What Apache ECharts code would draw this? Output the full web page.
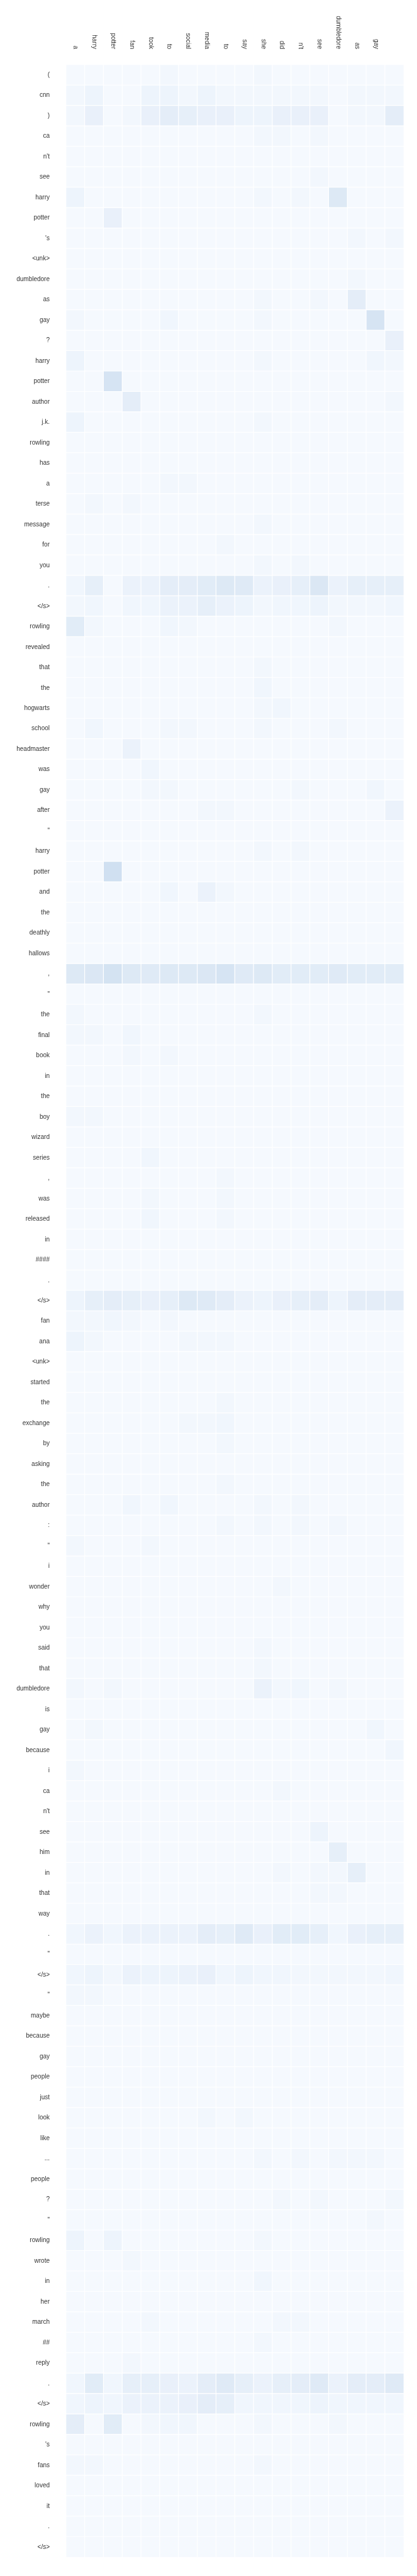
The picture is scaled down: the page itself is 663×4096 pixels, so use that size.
<!DOCTYPE html>
<html><head><meta charset="utf-8">
<script src="https://cdn.jsdelivr.net/npm/echarts@6/dist/echarts.min.js"></script>
<style>html,body{margin:0;padding:0;background:#fff}#c{width:663px;height:4096px}</style>
</head><body><div id="c"></div>
<script>
const xTokens = ['a','harry','potter','fan','took','to','social','media','to','say','she','did',"n't",'see','dumbledore','as','gay',''];
const yTokens = ['(','cnn',')','ca',"n't",'see','harry','potter',"'s",'<unk>','dumbledore','as','gay','?','harry','potter','author','j.k.','rowling','has','a','terse','message','for','you','.','</s>','rowling','revealed','that','the','hogwarts','school','headmaster','was','gay','after','"','harry','potter','and','the','deathly','hallows',',','"','the','final','book','in','the','boy','wizard','series',',','was','released','in','####','.','</s>','fan','ana','<unk>','started','the','exchange','by','asking','the','author',':','"','i','wonder','why','you','said','that','dumbledore','is','gay','because','i','ca',"n't",'see','him','in','that','way','.','"','</s>','"','maybe','because','gay','people','just','look','like','...','people','?','"','rowling','wrote','in','her','march','##','reply','.','</s>','rowling',"'s",'fans','loved','it','.','</s>'];
// attention weights, in percent (rows = yTokens, columns = xTokens)
const weights = [
[1,1,1,1,1,2,1,1,1,1,2,1,1,1,1,1,1,1],
[2,4,1,1,4,4,2,4,2,2,2,2,2,2,1,2,2,2],
[2,6,1,2,6,8,7,6,6,4,4,6,6,6,1,2,2,8],
[1,1,1,1,1,1,1,1,1,1,2,2,1,2,1,1,1,1],
[1,1,1,1,1,1,1,1,1,1,1,1,1,1,1,1,1,1],
[1,1,1,1,1,1,1,1,1,1,1,1,1,2,1,1,1,1],
[4,1,1,1,1,1,1,1,1,1,2,1,2,1,11,1,1,1],
[1,1,6,1,1,1,1,1,1,1,1,1,1,1,1,1,1,1],
[1,1,1,1,1,1,1,1,1,1,1,1,1,1,1,2,1,2],
[1,1,1,1,1,1,1,1,1,1,1,1,1,1,1,1,1,1],
[1,1,1,1,1,1,1,1,1,1,1,1,1,1,1,2,1,1],
[1,1,1,1,1,1,1,1,1,1,2,1,1,2,1,8,1,1],
[2,1,1,1,1,3,1,1,1,1,2,1,1,1,1,1,14,1],
[1,1,1,1,1,1,1,1,1,1,1,1,1,1,1,1,1,6],
[4,1,1,1,1,1,1,1,1,1,2,1,1,1,1,1,3,2],
[1,1,14,1,1,1,1,1,1,1,1,1,1,1,1,1,1,1],
[1,1,1,8,1,1,1,1,1,1,1,1,1,1,1,1,1,2],
[4,1,1,1,1,1,1,1,1,1,2,1,1,1,1,1,1,1],
[1,1,1,1,1,1,1,1,1,1,1,1,1,1,1,1,1,1],
[1,1,1,1,1,1,1,1,1,1,1,1,1,1,1,1,1,1],
[1,1,1,1,1,2,2,1,1,1,1,1,1,1,1,1,1,1],
[1,2,1,2,1,1,1,1,1,1,1,1,1,1,1,1,1,1],
[1,1,1,1,1,1,1,1,1,1,2,1,1,1,1,1,1,1],
[1,1,1,1,1,1,1,1,2,1,1,1,1,1,1,1,1,1],
[1,1,1,1,1,1,1,1,1,1,2,1,2,1,1,1,1,1],
[3,7,1,5,5,8,8,9,11,10,5,6,7,12,5,7,7,7],
[2,3,1,3,3,5,5,7,5,4,2,3,3,4,2,2,2,3],
[9,2,1,1,1,3,2,1,1,1,1,1,1,1,2,1,1,1],
[1,1,1,1,1,1,1,1,1,1,1,1,1,1,1,1,1,1],
[1,1,1,1,1,1,1,1,1,1,2,1,1,1,1,1,1,1],
[1,1,1,1,1,1,1,1,1,1,3,1,1,1,1,1,1,1],
[1,1,1,1,1,1,1,1,1,1,2,3,1,1,1,1,1,1],
[1,3,1,1,1,2,2,1,1,1,2,1,1,1,2,1,1,1],
[1,1,1,5,1,1,1,1,1,1,1,1,1,1,1,1,1,1],
[1,1,1,1,3,1,1,1,1,1,1,1,1,1,1,1,1,1],
[1,1,1,1,2,2,1,1,1,1,1,1,2,1,1,1,3,1],
[1,1,1,1,1,1,1,2,2,1,1,1,1,1,1,1,1,5],
[1,1,1,1,1,1,1,1,1,1,1,1,1,1,1,1,1,1],
[1,1,1,1,1,1,1,1,1,1,2,1,2,1,1,1,1,1],
[1,1,17,1,1,1,1,1,1,1,1,1,1,1,1,1,1,1],
[1,1,1,1,1,3,1,5,2,1,1,1,1,1,1,1,1,1],
[1,1,1,1,1,1,1,1,1,1,1,1,1,1,1,1,1,1],
[1,1,1,1,1,1,1,1,1,1,1,1,1,1,1,1,1,1],
[1,1,1,1,1,1,1,1,1,1,1,1,1,1,1,1,1,1],
[11,12,15,11,10,11,11,12,14,10,11,9,9,9,10,9,9,9],
[1,1,1,1,1,1,1,1,1,1,1,1,1,1,1,1,1,1],
[2,1,1,1,1,1,1,1,1,1,2,1,1,1,1,1,1,1],
[2,2,1,3,1,1,1,1,1,1,1,1,1,1,1,1,1,1],
[1,1,1,2,1,2,1,1,1,1,1,1,1,1,1,1,1,1],
[1,1,1,1,1,1,1,1,1,1,1,1,1,1,1,1,1,1],
[1,1,1,1,1,1,1,1,1,1,1,1,1,1,1,1,1,1],
[2,2,1,1,1,1,1,1,1,1,1,1,1,1,1,1,1,1],
[1,1,1,1,1,1,1,1,1,1,1,1,1,1,1,1,1,1],
[1,1,1,1,3,1,1,1,1,1,1,1,1,1,1,1,1,1],
[1,1,1,1,1,1,1,1,2,1,1,1,1,1,1,1,1,1],
[1,1,1,1,2,1,1,1,2,1,1,1,1,1,1,1,1,1],
[1,1,1,1,3,1,1,1,2,1,1,1,1,1,1,1,1,1],
[1,1,1,1,1,1,1,1,1,1,1,1,1,1,1,1,1,1],
[1,1,1,1,1,1,1,1,1,1,1,1,1,1,1,1,1,1],
[1,1,1,1,1,1,1,1,1,1,1,1,1,1,1,1,1,1],
[4,7,8,7,6,7,11,10,8,5,4,6,7,8,4,8,8,8],
[2,2,3,2,1,2,1,1,1,1,1,1,1,1,1,1,1,1],
[4,2,1,1,1,1,2,2,2,1,1,1,1,1,1,1,1,1],
[1,1,1,1,1,1,1,1,1,1,1,1,1,1,1,1,1,1],
[1,1,1,1,1,1,1,1,1,1,1,1,1,1,1,1,1,1],
[1,1,1,1,1,1,1,1,2,1,1,1,1,1,1,1,1,1],
[1,1,1,1,1,1,2,2,3,1,1,1,1,1,1,1,1,1],
[1,1,1,1,1,1,1,1,2,1,1,1,1,1,1,1,1,1],
[1,1,1,1,1,1,1,1,1,1,1,1,1,1,1,1,1,1],
[1,1,1,1,1,1,1,1,2,1,1,1,1,1,1,1,1,1],
[1,1,1,3,1,3,1,1,1,1,2,1,2,1,1,1,1,1],
[1,1,1,1,1,1,1,1,2,1,2,1,2,1,2,1,1,1],
[2,1,1,1,2,1,1,1,1,1,1,1,1,1,1,1,1,1],
[1,1,1,1,1,1,1,1,1,1,1,1,1,1,1,1,1,1],
[1,1,1,1,1,1,1,1,1,1,1,2,1,1,1,1,1,1],
[1,1,1,1,1,1,1,1,1,1,1,1,1,1,1,1,1,1],
[1,1,1,1,1,1,1,1,1,1,1,1,1,1,1,1,1,1],
[1,1,1,1,1,1,1,1,1,1,2,1,1,1,1,1,1,1],
[1,1,1,1,1,1,1,1,1,1,2,1,1,1,1,1,1,1],
[2,1,2,1,1,1,1,1,1,1,5,2,3,1,2,1,1,1],
[1,1,1,1,1,1,1,1,1,1,1,1,1,1,1,1,1,1],
[1,2,1,1,1,1,1,1,1,1,1,1,1,1,1,1,3,1],
[1,1,1,1,1,1,1,1,1,1,1,1,1,1,1,1,1,3],
[2,1,1,1,1,1,1,1,1,1,1,1,1,1,1,1,1,1],
[1,1,1,1,1,1,1,1,1,1,1,2,1,1,1,1,1,1],
[1,1,1,1,1,1,1,1,1,1,1,1,1,1,1,1,1,1],
[1,1,1,1,1,1,1,1,1,1,1,1,1,4,1,1,1,1],
[1,1,1,1,1,1,1,1,1,1,1,1,1,1,7,1,1,1],
[1,1,1,1,1,1,1,1,1,1,1,2,1,2,2,7,1,1],
[1,1,1,1,1,1,1,1,1,1,1,1,1,2,2,1,1,1],
[1,1,1,1,1,1,1,1,1,1,1,1,1,1,1,1,1,1],
[3,5,3,5,5,5,5,8,7,10,6,9,9,7,3,6,7,7],
[1,1,1,1,1,1,1,1,1,1,1,1,1,1,1,1,1,1],
[3,4,2,5,4,4,5,6,3,4,3,3,2,2,2,2,2,3],
[2,2,1,1,1,1,1,1,1,1,1,1,1,1,1,1,1,1],
[1,1,1,1,1,1,1,1,1,1,1,1,1,1,1,1,1,1],
[1,1,1,1,1,1,1,1,1,1,1,1,1,1,1,1,1,1],
[1,1,1,1,1,1,1,1,1,1,1,1,1,1,1,1,1,1],
[1,1,1,1,1,1,1,1,1,1,1,1,1,1,1,1,1,1],
[1,1,1,1,1,1,1,1,1,1,1,1,1,1,1,1,1,1],
[1,1,1,1,1,1,1,2,1,2,1,1,1,1,1,1,1,1],
[1,1,1,1,1,1,1,1,1,1,1,1,1,1,1,1,1,1],
[1,1,1,1,1,1,1,1,1,1,2,1,2,1,2,2,2,1],
[1,1,1,1,1,1,1,1,1,1,1,1,1,1,1,1,1,1],
[1,1,1,1,1,1,1,1,1,1,1,2,1,2,1,1,1,2],
[1,1,1,1,1,1,1,1,1,1,1,1,1,1,1,1,2,1],
[4,1,4,1,1,1,1,1,1,1,2,1,1,1,1,1,1,1],
[1,1,1,2,1,1,1,1,1,1,1,1,1,1,1,1,1,1],
[1,1,1,1,1,1,1,1,1,1,3,1,1,1,1,1,1,1],
[1,1,1,1,1,1,1,1,1,1,1,1,1,1,1,1,1,1],
[1,1,1,1,2,1,1,1,1,1,1,2,2,1,1,1,1,1],
[1,1,1,1,1,1,1,1,1,1,2,1,1,1,1,1,1,1],
[1,1,1,2,1,1,1,1,1,1,1,1,1,1,1,1,1,1],
[3,9,3,7,7,6,5,8,10,7,5,7,8,10,5,8,8,10],
[3,4,3,5,5,5,6,8,7,3,3,3,3,4,3,3,3,3],
[8,1,9,1,2,3,3,1,1,1,2,1,1,1,2,1,1,1],
[1,1,1,1,1,1,1,1,1,1,1,1,1,1,1,1,1,1],
[2,2,1,1,1,1,1,1,1,1,2,1,1,1,1,1,1,1],
[1,1,1,1,1,1,1,1,1,1,1,1,1,1,1,1,1,1],
[1,1,1,1,1,1,1,1,1,1,1,1,1,1,1,1,1,1],
[1,1,1,1,1,1,1,1,1,1,1,1,1,1,1,1,1,1],
[1,1,1,1,1,1,1,1,1,1,1,1,1,1,1,1,1,1]
];

const data = [];
weights.forEach((row, yi) => row.forEach((v, xi) => data.push([xi, yi, v])));

const chart = echarts.init(document.getElementById('c'), null, {renderer: 'canvas'});
const font = '"Liberation Sans", Arial, sans-serif';
chart.setOption({
  animation: false,
  backgroundColor: '#ffffff',
  grid: {left: 105, right: 21, top: 103, bottom: 30, containLabel: false},
  xAxis: {
    type: 'category', position: 'top', data: xTokens,
    axisLine: {show: false}, axisTick: {show: false}, splitLine: {show: false},
    axisLabel: {interval: 0, rotate: 90, fontSize: 10, color: '#333', fontFamily: font, margin: 25}
  },
  yAxis: {
    type: 'category', inverse: true, data: yTokens,
    axisLine: {show: false}, axisTick: {show: false}, splitLine: {show: false},
    axisLabel: {interval: 0, fontSize: 10, color: '#333', fontFamily: font, margin: 26}
  },
  visualMap: {
    show: false, type: 'continuous', min: 0, max: 20, dimension: 2,
    inRange: {color: ['#f7fbff', '#ebf2fb', '#dfeaf6', '#d4e3f2', '#c9dcef']}
  },
  series: [{
    type: 'heatmap', data: data,
    itemStyle: {borderColor: '#ffffff', borderWidth: 1.2},
    emphasis: {disabled: true}
  }]
});
</script>
</body></html>
